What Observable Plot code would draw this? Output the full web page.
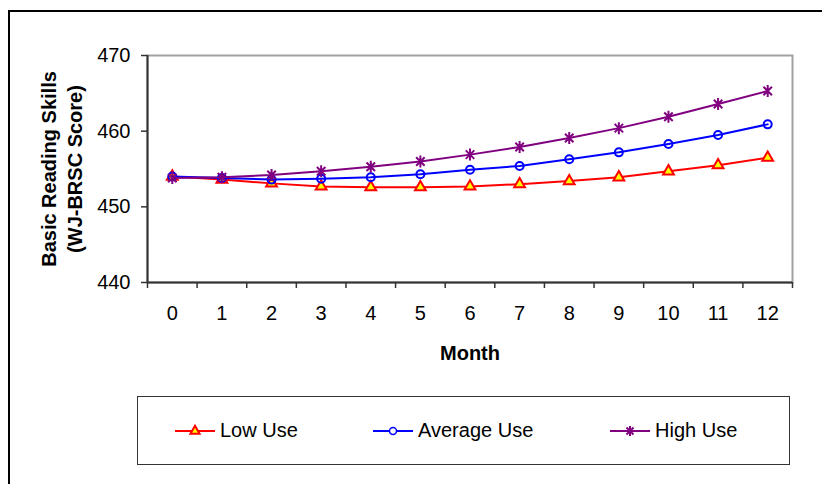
<!DOCTYPE html>
<html><head><meta charset="utf-8">
<script src="https://cdn.jsdelivr.net/npm/d3@7"></script>
<script src="https://cdn.jsdelivr.net/npm/@observablehq/plot@0.6"></script>
<style>
html,body{margin:0;padding:0;background:#fff;overflow:hidden;width:822px;height:484px;}
#frame{position:absolute;left:8px;top:10px;width:900px;height:600px;border-left:2px solid #000;border-top:2px solid #000;}
#chart{position:absolute;left:0;top:0;}
#legend{position:absolute;left:137px;top:396px;width:653px;height:69px;border:1px solid #333;box-sizing:border-box;font-family:"Liberation Sans",Arial,sans-serif;font-size:20px;background:#fff;}
.item{position:absolute;top:0;height:100%;display:flex;align-items:center;white-space:nowrap;}
.item svg{display:block;margin-right:5px;}
</style></head><body>
<div id="frame"></div>
<div id="chart"></div>
<div id="legend"></div>
<script>
const months = [0, 1, 2, 3, 4, 5, 6, 7, 8, 9, 10, 11, 12];
const lowUse = [454.0, 453.6, 453.1, 452.7, 452.6, 452.6, 452.7, 453.0, 453.4, 453.9, 454.7, 455.5, 456.5];
const averageUse = [454.0, 453.8, 453.6, 453.7, 453.9, 454.3, 454.9, 455.4, 456.3, 457.2, 458.3, 459.5, 460.9];
const highUse = [453.8, 453.9, 454.2, 454.7, 455.3, 456.0, 456.9, 457.9, 459.1, 460.4, 461.9, 463.6, 465.3];
const yTicks = [440, 450, 460, 470];
const seriesNames = ["Low Use", "Average Use", "High Use"];
const yTitle = "Basic Reading Skills\n(WJ-BRSC Score)";
const xTitle = "Month";

const boundaries = months.map(m => m - 0.5).concat([months[months.length - 1] + 0.5]);
const rows = (name, vals) => months.map((m, i) => ({month: m, value: vals[i], series: name}));
const low = rows(seriesNames[0], lowUse);
const avg = rows(seriesNames[1], averageUse);
const high = rows(seriesNames[2], highUse);

const starSymbol = {
  draw(ctx, size) {
    const r = Math.sqrt(size / Math.PI);
    const d = r * Math.SQRT1_2;
    ctx.moveTo(0, -r); ctx.lineTo(0, r);
    ctx.moveTo(-d, -d); ctx.lineTo(d, d);
    ctx.moveTo(-d, d); ctx.lineTo(d, -d);
  }
};

const H = 390;
const chart = Plot.plot({
  width: 822, height: H,
  marginLeft: 147, marginRight: 30, marginTop: 55, marginBottom: H - 282,
  x: {type: "linear", domain: [boundaries[0], boundaries[boundaries.length - 1]]},
  y: {domain: [yTicks[0], yTicks[yTicks.length - 1]]},
  style: {fontFamily: "'Liberation Sans', Arial, sans-serif", fontSize: "20px", color: "#000", background: "transparent", overflow: "visible"},
  marks: [
    Plot.frame({stroke: "#a0a0a0", strokeWidth: 2}),
    Plot.axisY({ticks: yTicks, tickSize: 6, tickPadding: 11, label: null, stroke: "#333", strokeWidth: 1.5, fontSize: 20, fill: "#000"}),
    Plot.axisX({ticks: boundaries, tickSize: 6, tickFormat: () => "", label: null, stroke: "#333", strokeWidth: 1.5}),
    Plot.axisX({ticks: months, tickSize: 0, tickPadding: 23, label: null, fontSize: 20, fill: "#000"}),
    Plot.ruleX([boundaries[0]], {stroke: "#333", strokeWidth: 2}),
    Plot.ruleY([yTicks[0]], {stroke: "#333", strokeWidth: 2}),
    Plot.line(low, {x: "month", y: "value", stroke: "#ff0000", strokeWidth: 2}),
    Plot.dot(low, {x: "month", y: "value", symbol: "triangle", r: 4, fill: "#ffff00", stroke: "#ff0000", strokeWidth: 2}),
    Plot.line(avg, {x: "month", y: "value", stroke: "#0000ff", strokeWidth: 2}),
    Plot.dot(avg, {x: "month", y: "value", symbol: "circle", r: 4, fill: "none", stroke: "#0000ff", strokeWidth: 2}),
    Plot.line(high, {x: "month", y: "value", stroke: "#800080", strokeWidth: 2}),
    Plot.dot(high, {x: "month", y: "value", symbol: starSymbol, r: 6, fill: "none", stroke: "#800080", strokeWidth: 2}),
    Plot.text([yTitle], {text: d => d, frameAnchor: "left", textAnchor: "middle", lineAnchor: "middle", dx: -87, rotate: -90, fontWeight: "bold", fontSize: 20, lineHeight: 1.3, fill: "#000"}),
    Plot.text([xTitle], {text: d => d, frameAnchor: "bottom", textAnchor: "middle", lineAnchor: "middle", dy: 71, fontWeight: "bold", fontSize: 20, fill: "#000"})
  ]
});
document.getElementById("chart").appendChild(chart);

// Legend
const legendItems = [
  {name: seriesNames[0], color: "#ff0000", kind: "triangle", left: 37},
  {name: seriesNames[1], color: "#0000ff", kind: "circle", left: 235},
  {name: seriesNames[2], color: "#800080", kind: "star", left: 472}
];
const legend = d3.select("#legend");
for (const it of legendItems) {
  const div = legend.append("div").attr("class", "item").style("left", it.left + "px");
  const svg = div.append("svg").attr("width", 40).attr("height", 20);
  svg.append("line").attr("x1", 0).attr("x2", 40).attr("y1", 10).attr("y2", 10).attr("stroke", it.color).attr("stroke-width", 2);
  if (it.kind === "triangle") {
    svg.append("path").attr("d", d3.symbol(d3.symbolTriangle, 36)()).attr("transform", "translate(20,10)").attr("fill", "#ffff00").attr("stroke", it.color).attr("stroke-width", 2);
  } else if (it.kind === "circle") {
    svg.append("circle").attr("cx", 20).attr("cy", 10).attr("r", 3.5).attr("fill", "#fff").attr("stroke", it.color).attr("stroke-width", 1.5);
  } else {
    svg.append("path").attr("d", d3.symbol(starSymbol, Math.PI * 25)()).attr("transform", "translate(20,10)").attr("fill", "none").attr("stroke", it.color).attr("stroke-width", 2);
  }
  div.append("span").text(it.name);
}
</script>
</body></html>
